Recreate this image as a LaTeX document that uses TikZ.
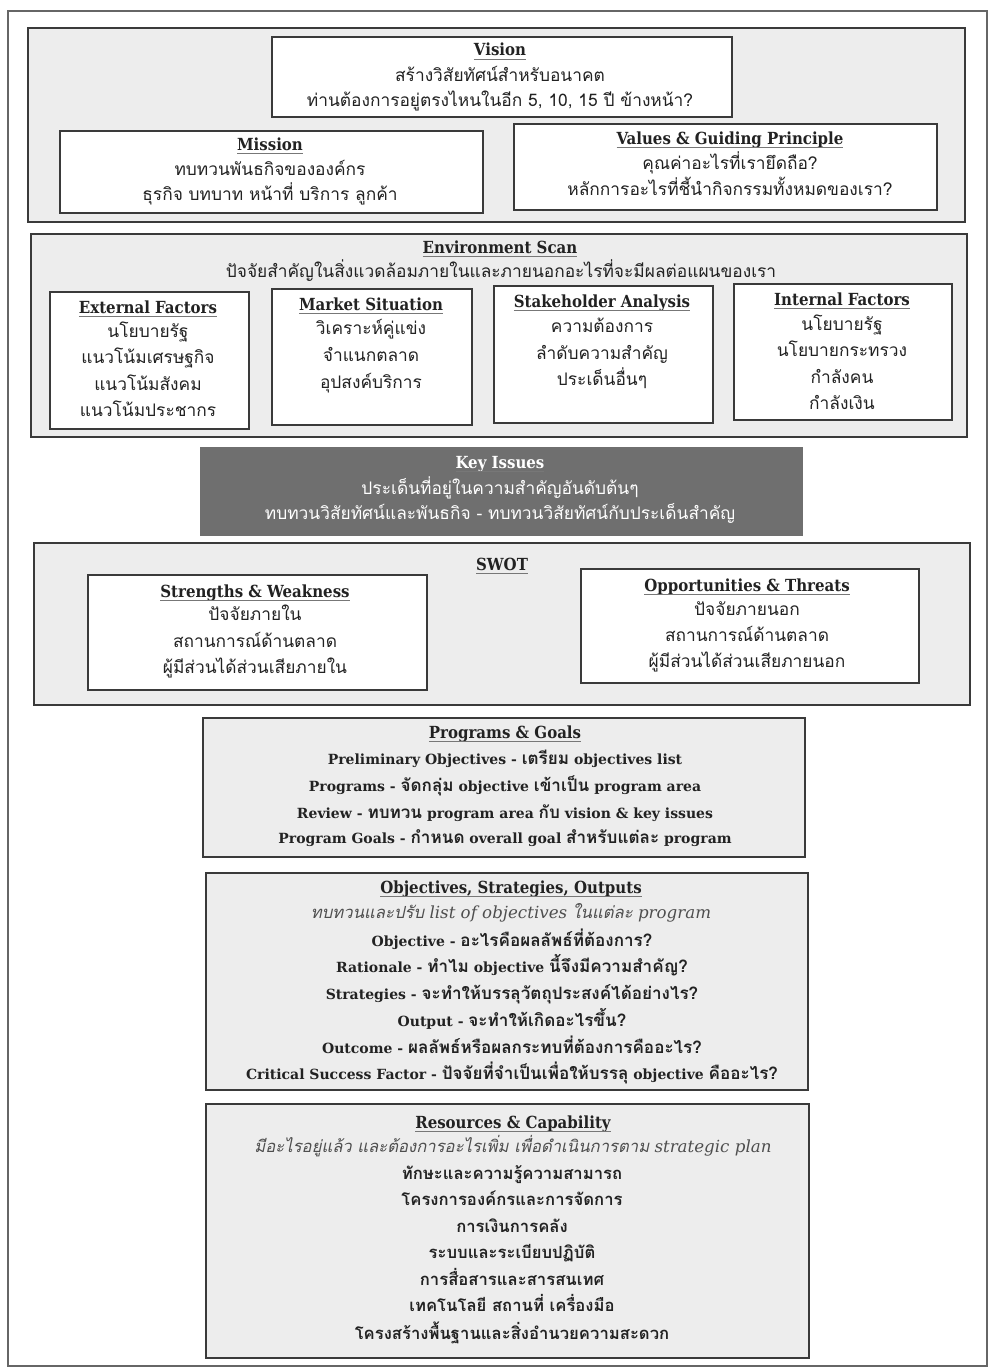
\documentclass[tikz,border=0pt]{standalone}
\usepackage{fontspec}
\usetikzlibrary{fit}
\setmainfont{DejaVu Serif}
\newfontfamily\thai[Script=Thai]{Loma}
% Thai set inside Latin lines, enlarged to sit with the serif text
\newfontfamily\thaim[Script=Thai,Scale=1.22]{Loma}
\newfontfamily\slab{DejaVu Serif Condensed}
\definecolor{ink}{HTML}{222222}
\definecolor{edge}{HTML}{3A3A3A}
\definecolor{panel}{HTML}{EDEDED}
\definecolor{keyfill}{HTML}{6F6F6F}
\definecolor{ulgray}{HTML}{777777}
\definecolor{frame}{HTML}{666666}
% underlined heading
\newsavebox\ulbox
\newcommand\ttl[1]{\sbox\ulbox{\slab\bfseries #1}\usebox\ulbox\llap{\textcolor{ulgray}{\rule[-3pt]{\wd\ulbox}{0.8pt}}}}
\begin{document}
\begin{tikzpicture}[x=0.75pt,y=-0.75pt,
  group/.style={draw=edge,line width=2.2pt,fill=panel,inner sep=0pt},
  box/.style={draw=edge,line width=1.1pt,fill=white,inner sep=0pt},
  keybox/.style={fill=keyfill,inner sep=0pt},
  hd/.style={anchor=base,inner sep=0pt,text=ink,font=\fontsize{12.5}{14}\selectfont},
  th/.style={anchor=base,inner sep=0pt,text=ink,font=\thai\fontsize{13}{15}\selectfont},
  lt/.style={anchor=base,inner sep=0pt,text=ink,font=\bfseries\fontsize{10.5}{13}\selectfont},
  it/.style={anchor=base,inner sep=0pt,text=ink!80,font=\itshape\fontsize{12.5}{14}\selectfont},
  thb/.style={anchor=base,inner sep=0pt,text=ink,font=\thai\bfseries\fontsize{12.5}{15}\selectfont},
]
\useasboundingbox (0,0) rectangle (997,1370);
% page frame
\node[draw=frame,line width=0.8pt,inner sep=0pt,fit={(8,11) (987,1366)}] (page) {};

% ---- Vision / Mission / Values ----
\node[group,fit={(28,28) (965,222)}] (g1) {};
\node[box,fit={(272,37) (732,117)}] (vision) {};
\node[box,fit={(60,131) (483,213)}] (mission) {};
\node[box,fit={(514,124) (937,210)}] (values) {};
\node[hd] (visT) at (500,56) {\ttl{Vision}};
\node[th] (vis1) at (500,82) {สร้างวิสัยทัศน์สำหรับอนาคต};
\node[th] (vis2) at (500,106) {ท่านต้องการอยู่ตรงไหนในอีก 5, 10, 15 ปี ข้างหน้า?};
\node[hd] (misT) at (270,150) {\ttl{Mission}};
\node[th] (mis1) at (270,175) {ทบทวนพันธกิจขององค์กร};
\node[th] (mis2) at (270,200) {ธุรกิจ บทบาท หน้าที่ บริการ ลูกค้า};
\node[hd] (valT) at (730,144) {\ttl{Values \& Guiding Principle}};
\node[th] (val1) at (730,169) {คุณค่าอะไรที่เรายึดถือ?};
\node[th] (val2) at (730,195) {หลักการอะไรที่ชี้นำกิจกรรมทั้งหมดของเรา?};

% ---- Environment scan ----
\node[group,fit={(31,234) (967,437)}] (g2) {};
\node[hd] (envT) at (500,253) {\ttl{Environment Scan}};
\node[th] (env1) at (501,277) {ปัจจัยสำคัญในสิ่งแวดล้อมภายในและภายนอกอะไรที่จะมีผลต่อแผนของเรา};
\node[box,fit={(50,292) (249,429)}] (ext) {};
\node[box,fit={(272,289) (472,425)}] (mkt) {};
\node[box,fit={(494,286) (713,423)}] (stk) {};
\node[box,fit={(734,284) (952,420)}] (int) {};
\node[hd] (extT) at (148,313) {\ttl{External Factors}};
\node[th] (ext1) at (148,337) {นโยบายรัฐ};
\node[th] (ext2) at (148,363) {แนวโน้มเศรษฐกิจ};
\node[th] (ext3) at (148,390) {แนวโน้มสังคม};
\node[th] (ext4) at (148,416) {แนวโน้มประชากร};
\node[hd] (mktT) at (371,310) {\ttl{Market Situation}};
\node[th] (mkt1) at (371,334) {วิเคราะห์คู่แข่ง};
\node[th] (mkt2) at (371,361) {จำแนกตลาด};
\node[th] (mkt3) at (371,388) {อุปสงค์บริการ};
\node[hd] (stkT) at (602,307) {\ttl{Stakeholder Analysis}};
\node[th] (stk1) at (602,332) {ความต้องการ};
\node[th] (stk2) at (602,359) {ลำดับความสำคัญ};
\node[th] (stk3) at (602,385) {ประเด็นอื่นๆ};
\node[hd] (intT) at (842,305) {\ttl{Internal Factors}};
\node[th] (int1) at (842,330) {นโยบายรัฐ};
\node[th] (int2) at (842,356) {นโยบายกระทรวง};
\node[th] (int3) at (842,383) {กำลังคน};
\node[th] (int4) at (842,409) {กำลังเงิน};

% ---- Key issues ----
\node[keybox,fit={(200,447) (803,536)}] (key) {};
\node[hd,text=white] (keyT) at (500,468) {\ttl{Key Issues}};
\node[th,text=white] (key1) at (500,494) {ประเด็นที่อยู่ในความสำคัญอันดับต้นๆ};
\node[th,text=white] (key2) at (500,519) {ทบทวนวิสัยทัศน์และพันธกิจ - ทบทวนวิสัยทัศน์กับประเด็นสำคัญ};

% ---- SWOT ----
\node[group,fit={(34,543) (970,705)}] (g3) {};
\node[hd] (swotT) at (502,570) {\ttl{SWOT}};
\node[box,fit={(88,575) (427,690)}] (sw) {};
\node[box,fit={(581,569) (919,683)}] (ot) {};
\node[hd] (swT) at (255,597) {\ttl{Strengths \& Weakness}};
\node[th] (sw1) at (255,620) {ปัจจัยภายใน};
\node[th] (sw2) at (255,647) {สถานการณ์ด้านตลาด};
\node[th] (sw3) at (255,673) {ผู้มีส่วนได้ส่วนเสียภายใน};
\node[hd] (otT) at (747,591) {\ttl{Opportunities \& Threats}};
\node[th] (ot1) at (747,615) {ปัจจัยภายนอก};
\node[th] (ot2) at (747,641) {สถานการณ์ด้านตลาด};
\node[th] (ot3) at (747,667) {ผู้มีส่วนได้ส่วนเสียภายนอก};

% ---- Programs & goals ----
\node[group,fit={(203,718) (805,857)}] (g4) {};
\node[hd] (prgT) at (505,738) {\ttl{Programs \& Goals}};
\node[lt] (prg1) at (505,764) {Preliminary Objectives - {\thaim เตรียม} objectives list};
\node[lt] (prg2) at (505,791) {Programs - {\thaim จัดกลุ่ม} objective {\thaim เข้าเป็น} program area};
\node[lt] (prg3) at (505,818) {Review - {\thaim ทบทวน} program area {\thaim กับ} vision \& key issues};
\node[lt] (prg4) at (505,843) {Program Goals - {\thaim กำหนด} overall goal {\thaim สำหรับแต่ละ} program};

% ---- Objectives, strategies, outputs ----
\node[group,fit={(206,873) (808,1090)}] (g5) {};
\node[hd] (objT) at (511,893) {\ttl{Objectives, Strategies, Outputs}};
\node[it] (obj0) at (511,918) {{\thai ทบทวนและปรับ} list of objectives {\thai ในแต่ละ} program};
\node[lt] (obj1) at (512,946) {Objective - {\thaim อะไรคือผลลัพธ์ที่ต้องการ?}};
\node[lt] (obj2) at (512,972) {Rationale - {\thaim ทำไม} objective {\thaim นี้จึงมีความสำคัญ?}};
\node[lt] (obj3) at (512,999) {Strategies - {\thaim จะทำให้บรรลุวัตถุประสงค์ได้อย่างไร?}};
\node[lt] (obj4) at (512,1026) {Output - {\thaim จะทำให้เกิดอะไรขึ้น?}};
\node[lt] (obj5) at (512,1053) {Outcome - {\thaim ผลลัพธ์หรือผลกระทบที่ต้องการคืออะไร?}};
\node[lt] (obj6) at (512,1079) {Critical Success Factor - {\thaim ปัจจัยที่จำเป็นเพื่อให้บรรลุ} objective {\thaim คืออะไร?}};

% ---- Resources & capability ----
\node[group,fit={(206,1104) (809,1358)}] (g6) {};
\node[hd] (resT) at (513,1128) {\ttl{Resources \& Capability}};
\node[it] (res0) at (513,1152) {{\thai มีอะไรอยู่แล้ว และต้องการอะไรเพิ่ม เพื่อดำเนินการตาม} strategic plan};
\node[thb] (res1) at (512,1179) {ทักษะและความรู้ความสามารถ};
\node[thb] (res2) at (512,1205) {โครงการองค์กรและการจัดการ};
\node[thb] (res3) at (512,1232) {การเงินการคลัง};
\node[thb] (res4) at (512,1258) {ระบบและระเบียบปฏิบัติ};
\node[thb] (res5) at (512,1285) {การสื่อสารและสารสนเทศ};
\node[thb] (res6) at (512,1311) {เทคโนโลยี สถานที่ เครื่องมือ};
\node[thb] (res7) at (512,1339) {โครงสร้างพื้นฐานและสิ่งอำนวยความสะดวก};
\end{tikzpicture}
\end{document}
